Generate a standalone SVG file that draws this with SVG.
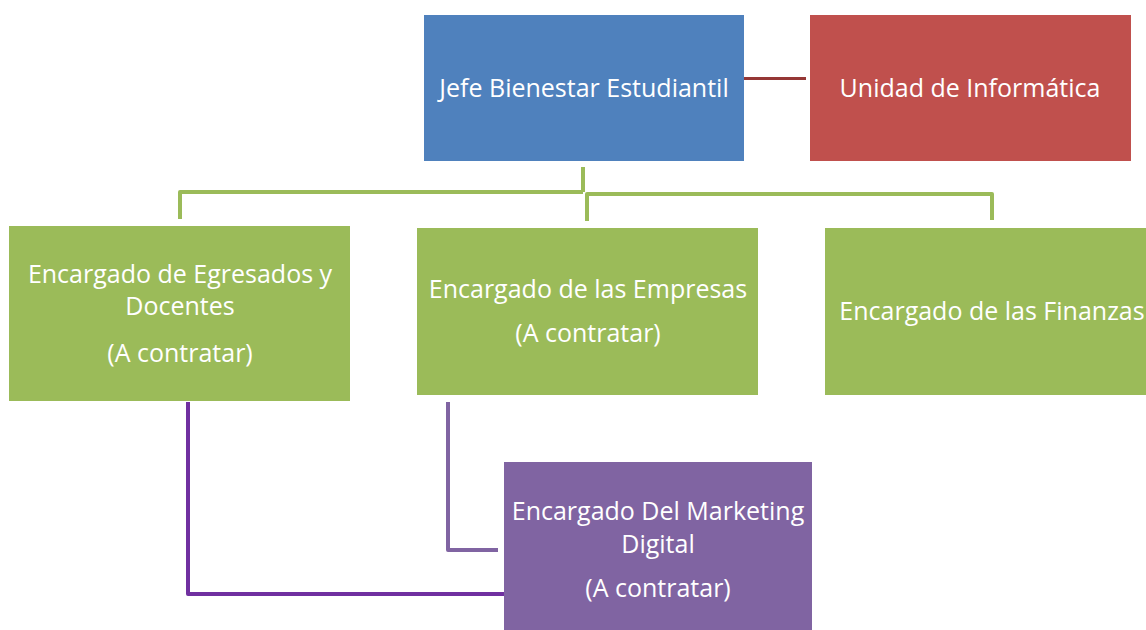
<svg xmlns="http://www.w3.org/2000/svg" width="1146" height="630" viewBox="0 0 1146 630">
<style>
text{font-family:"Open Sans","Liberation Sans",sans-serif;font-size:25px;fill:#ffffff;text-anchor:middle}
.c{fill:none;stroke-width:4;stroke-linejoin:round}
.g{stroke:#9BBB59}
</style>
<rect width="1146" height="630" fill="#ffffff"/>
<g id="connectors">
<line x1="744" y1="78.5" x2="806" y2="78.5" stroke="#953735" stroke-width="3"/>
<polyline class="c g" points="583,167 583,192"/>
<polyline class="c g" points="180,219 180,192 583,192"/>
<polyline class="c g" points="587,221 587,194 992,194 992,220"/>
<polyline class="c" stroke="#8064A2" points="448,402 448,550 498,550"/>
<polyline class="c" stroke="#7030A0" points="188,402 188,594 504,594"/>
</g>
<g id="jefe">
<rect x="424" y="15" width="320" height="146" fill="#4F81BD"/>
<text x="584" y="97">Jefe Bienestar Estudiantil</text>
</g>
<g id="informatica">
<rect x="810" y="15" width="321" height="146" fill="#C0504D"/>
<text x="970" y="97">Unidad de Informática</text>
</g>
<g id="egresados">
<rect x="9" y="226" width="341" height="175" fill="#9BBB59"/>
<text x="180" y="283">Encargado de Egresados y</text>
<text x="180" y="315">Docentes</text>
<text x="180" y="362">(A contratar)</text>
</g>
<g id="empresas">
<rect x="417" y="228" width="341" height="167" fill="#9BBB59"/>
<text x="588" y="298">Encargado de las Empresas</text>
<text x="588" y="342">(A contratar)</text>
</g>
<g id="finanzas">
<rect x="825" y="228" width="325" height="167" fill="#9BBB59"/>
<text x="992" y="320">Encargado de las Finanzas</text>
</g>
<g id="marketing">
<rect x="504" y="462" width="308" height="170" fill="#8064A2"/>
<text x="658" y="520">Encargado Del Marketing</text>
<text x="658" y="553">Digital</text>
<text x="658" y="597">(A contratar)</text>
</g>
</svg>
